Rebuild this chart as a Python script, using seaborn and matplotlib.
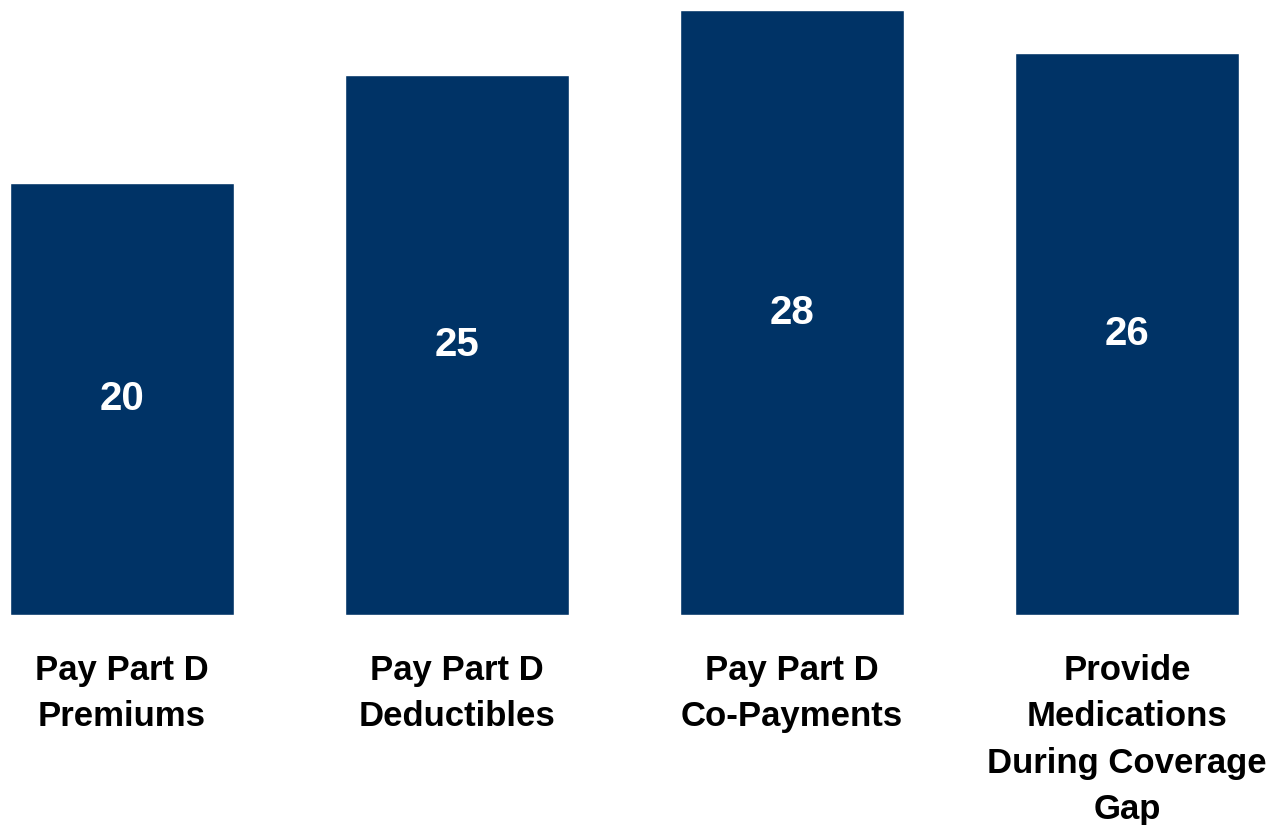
import matplotlib
matplotlib.use("Agg")
import matplotlib.pyplot as plt
import seaborn as sns
import pandas as pd

categories = ["Pay Part D\nPremiums", "Pay Part D\nDeductibles", "Pay Part D\nCo-Payments",
              "Provide\nMedications\nDuring Coverage\nGap"]
values = [20, 25, 28, 26]

sns.set_theme(style="white")
plt.rcParams['font.family'] = ['Liberation Sans', 'DejaVu Sans']

df = pd.DataFrame({"cat": categories, "val": values})

fig = plt.figure(figsize=(12.75, 8.25), dpi=100)
ax = fig.add_axes([0, 210/825, 1, 615/825])
sns.barplot(data=df, x="cat", y="val", color="#003366", saturation=1, width=0.67, ax=ax)

ax.set_xlim(-122/335, 3 + (1275-1127)/335)
ax.set_ylim(0, 615/21.6)
for i, v in enumerate(values):
    ax.text(i, v/2, f"{v}", color="white", fontsize=29, fontweight="bold",
            ha="center", va="center")

ax.set_xlabel("")
ax.set_ylabel("")
ax.set_yticks([])
ax.tick_params(axis="x", length=0, pad=28)
for lbl in ax.get_xticklabels():
    lbl.set_fontsize(25)
    lbl.set_fontweight("bold")
    lbl.set_color("black")
    lbl.set_multialignment("center")
    lbl.set_linespacing(1.52)
for s in ax.spines.values():
    s.set_visible(False)

fig.savefig("out.png", dpi=100)
